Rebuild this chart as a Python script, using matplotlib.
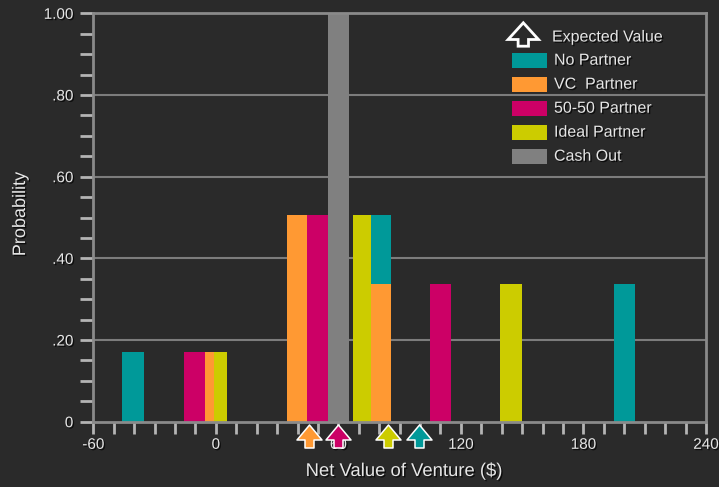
import matplotlib
matplotlib.use("Agg")
import matplotlib.pyplot as plt
import matplotlib.patheffects as pe
from matplotlib.path import Path
from matplotlib.patches import Rectangle, Polygon
from matplotlib.ticker import MultipleLocator, FixedLocator, FixedFormatter

# %%
# values
series_names = ["No Partner", "VC  Partner", "50-50 Partner", "Ideal Partner", "Cash Out"]

no_partner_x = [-40.5, 80.5, 200]
no_partner_p = [0.17, 0.505, 0.337]
vc_partner_x = [0, 40, 80.5]
vc_partner_p = [0.17, 0.505, 0.337]
fifty_partner_x = [-10.4, 50, 110]
fifty_partner_p = [0.17, 0.505, 0.337]
ideal_partner_x = [2.4, 71.7, 144.6]
ideal_partner_p = [0.17, 0.505, 0.337]
cash_out_x = [60]
cash_out_p = [1.0]

# expected value markers (no partner, vc, 50-50, ideal)
expected_value = [99.7, 45.7, 59.8, 84.4]

x_tick_values = [-60, 0, 60, 120, 180, 240]
x_tick_labels = ["-60", "0", "60", "120", "180", "240"]
y_tick_values = [0, 0.2, 0.4, 0.6, 0.8, 1.0]
y_tick_labels = ["0", ".20", ".40", ".60", ".80", "1.00"]

# %%
BG = "#2a2a2a"
TXT = "#e6e6e6"
colors = ["#009999", "#ff9933", "#cc0066", "#cccc00", "#808080"]
W, H = 719, 487
shadow = [pe.SimplePatchShadow(offset=(1, -1), shadow_rgbFace="black", alpha=0.7), pe.Normal()]
plt.rcParams["font.family"] = ["Liberation Sans", "DejaVu Sans"]


def fx(x):
    return x / W


def fy(y):
    return 1 - y / H


fig = plt.figure(figsize=(W / 100, H / 100), dpi=100, facecolor=BG)
ax = fig.add_axes([fx(93.3), fy(421.7), (706 - 93.3) / W, (421.7 - 13.3) / H])
ax.set_facecolor(BG)

bar_w = 10.5
data = [
    (no_partner_x, no_partner_p),
    (vc_partner_x, vc_partner_p),
    (fifty_partner_x, fifty_partner_p),
    (ideal_partner_x, ideal_partner_p),
    (cash_out_x, cash_out_p),
]
# the ideal partner bars are squeezed in where they overlap others
widths = [[bar_w] * 3, [bar_w] * 3, [bar_w] * 3, [6.3, 8.8, bar_w], [bar_w]]
for i, (xs, ps) in enumerate(data):
    ax.bar(xs, ps, width=widths[i], color=colors[i], linewidth=0, zorder=2 + i * 0.1)

ax.set_xlim(-60, 240)
ax.set_ylim(0, 1)

for y in y_tick_values[1:-1]:
    ax.axhline(y, color="#7c7c7c", lw=1.5, zorder=1)

for s in ax.spines.values():
    s.set_color("#8a8a8a")
    s.set_linewidth(2)

ax.xaxis.set_major_locator(FixedLocator(x_tick_values))
ax.xaxis.set_major_formatter(FixedFormatter(x_tick_labels))
ax.xaxis.set_minor_locator(MultipleLocator(10))
ax.yaxis.set_major_locator(FixedLocator(y_tick_values))
ax.yaxis.set_major_formatter(FixedFormatter(y_tick_labels))
ax.yaxis.set_minor_locator(MultipleLocator(0.05))

ax.tick_params(axis="x", which="both", direction="out", length=8.6, width=2,
               color="#b4b4b4", labelcolor=TXT, labelsize=11, pad=3)
ax.tick_params(axis="y", which="both", direction="out", length=9.4, width=2,
               color="#b4b4b4", labelcolor=TXT, labelsize=11, pad=5)
for lab in ax.get_xticklabels() + ax.get_yticklabels():
    lab.set_path_effects(shadow)

# expected value arrows under the axis
arrow_verts = [(0, 11.5), (12.5, -3.5), (4.5, -3.5), (4.5, -11.5),
               (-4.5, -11.5), (-4.5, -3.5), (-12.5, -3.5), (0, 11.5)]
arrow = Path(arrow_verts, closed=True)
for ev, c in zip(expected_value, colors):
    ax.plot([ev], [-0.036], linestyle="none", marker=arrow, ms=18, mfc=c,
            mec="white", mew=1.1, transform=ax.get_xaxis_transform(),
            clip_on=False, zorder=6)

# axis titles
fig.text(fx(404), fy(471.5), "Net Value of Venture ($)", ha="center", va="center",
         fontsize=13.3, color=TXT, path_effects=shadow)
fig.text(fx(20.5), fy(214), "Probability", ha="center", va="center", rotation=90,
         fontsize=13, color=TXT, path_effects=shadow)

# legend
leg_arrow = [(523.3, 22.8), (538.5, 39.5), (528.5, 39.5), (528.5, 46.2),
             (518.1, 46.2), (518.1, 39.5), (508.1, 39.5)]
fig.add_artist(Polygon([(fx(x), fy(y)) for x, y in leg_arrow], closed=True,
                       transform=fig.transFigure, facecolor=BG, edgecolor="white",
                       lw=2, joinstyle="miter"))
fig.text(fx(552), fy(37), "Expected Value", ha="left", va="center",
         fontsize=11.5, color=TXT, path_effects=shadow)
for i, (name, c) in enumerate(zip(series_names, colors)):
    yc = 60.2 + 24 * i
    fig.add_artist(Rectangle((fx(512), fy(yc + 7.5)), 35 / W, 15 / H,
                             transform=fig.transFigure, facecolor=c, lw=0))
    fig.text(fx(554), fy(yc), name, ha="left", va="center",
             fontsize=11.5, color=TXT, path_effects=shadow)

fig.savefig("out.png", dpi=100, facecolor=BG)
